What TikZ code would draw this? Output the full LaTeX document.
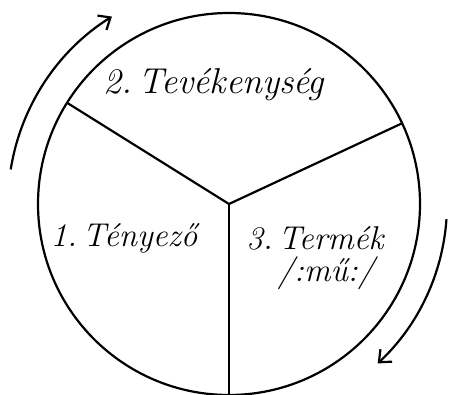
\documentclass[tikz,border=0pt]{standalone}
\usetikzlibrary{arrows.meta,calc}
\begin{document}
\begin{tikzpicture}[x=1pt,y=1pt,
  ring/.style={line width=2.2pt},
  spoke/.style={line width=2.2pt},
  flow/.style={line width=2.2pt,-{Straight Barb[length=10pt,width=17pt,line width=2.2pt]}},
  lbl/.style={font=\fontsize{33}{36}\selectfont\itshape,inner sep=0pt},
  biglbl/.style={lbl,font=\fontsize{36}{40}\selectfont\itshape}]
\useasboundingbox (0,0) rectangle (449,395);
\coordinate (c) at (229,191);
\draw[ring] (c) circle[radius=191];
\coordinate (pl) at ($(c)+(148:191)$);
\coordinate (pr) at ($(c)+(25:191)$);
\coordinate (pb) at ($(c)+(270:191)$);
\draw[spoke] (pl) -- (c) -- (pr);
\draw[spoke] (c) -- (pb);
\coordinate (al) at ($(c)+(171:221)$);
\draw[flow] (al) arc[start angle=171,end angle=122,radius=221];
\coordinate (ar) at ($(c)+(-4:218)$);
\draw[flow] (ar) arc[start angle=-4,end angle=-47,radius=218];
\node[biglbl] (t2) at (214,310) {2.\,Tevékenység};
\node[lbl] (t1) at (124,157) {1.\,Tényező};
\node[lbl] (t3) at (315,157) {3.\,Termék};
\node[lbl] (t3b) at (326,122) {/:mű:/};
\end{tikzpicture}
\end{document}
